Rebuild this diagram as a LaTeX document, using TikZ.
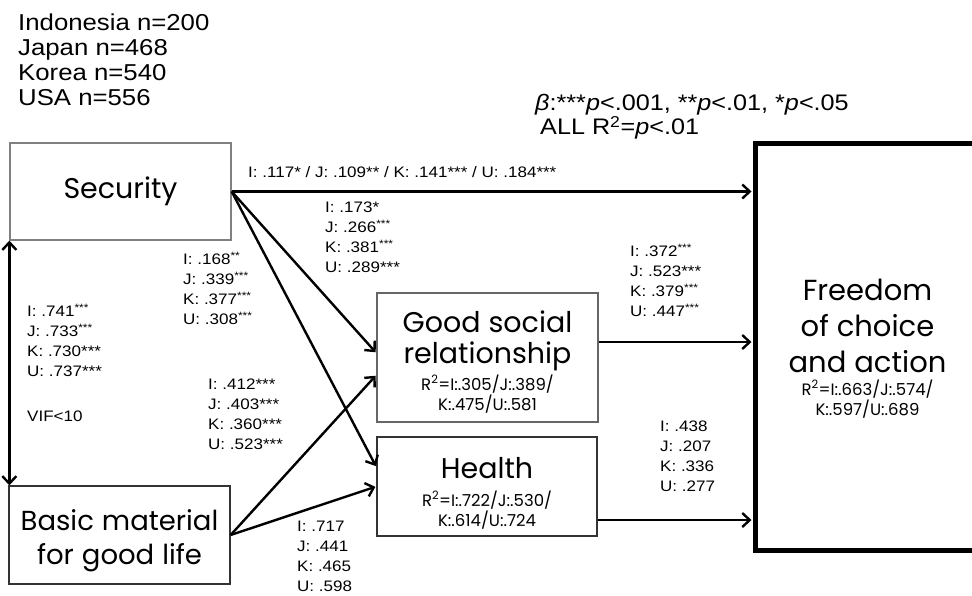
\documentclass[tikz,border=0pt]{standalone}
\usepackage{fontspec}
\setmainfont{Liberation Sans}[FakeStretch=1.12]
\newfontfamily\boxfont{Poppins}
\usetikzlibrary{arrows.meta}
\newcommand{\sg}[1]{\textsuperscript{#1}}
\newcommand{\gap}{\hspace{8pt}}
\begin{document}
\begin{tikzpicture}[x=1pt,y=-1pt,
  box/.style={draw=black!80,line width=1.3pt,align=center,text width=218pt,font=\boxfont},
  link/.style={line width=2.4pt,-{Straight Barb[length=7.5pt,width=14pt]},shorten >=1pt},
  coef/.style={anchor=north west,align=left,font=\fontsize{15.2}{20}\selectfont}]
\tikzstyle{every node}+=[inner sep=0pt]
\fill[white] (0,0) rectangle (972,595);
\useasboundingbox (0,0) rectangle (972,595);
\clip (0,0) rectangle (972,595);
% headers
\node[anchor=north west,align=left,font=\fontsize{23}{25}\selectfont] (hdr) at (18,13.5)
  {Indonesia n=200\\Japan n=468\\Korea n=540\\USA n=556};
\node[anchor=north west,align=left,font=\fontsize{22.5}{22}\selectfont] (sig) at (535,94)
  {\textit{β}:***\textit{p}<.001, **\textit{p}<.01, *\textit{p}<.05\\\hspace*{5pt}ALL R\textsuperscript{2}=\textit{p}<.01};
% boxes
\node[box,draw=gray,minimum width=221pt,minimum height=97pt] (sec) at (120.5,191.5)
  {\fontsize{28.5}{32}\selectfont Security\par};
\node[box,draw=gray!80!black,minimum width=221pt,minimum height=129pt] (gsr) at (487.5,357.5)
  {{\fontsize{28.5}{31}\selectfont\rule{0pt}{30pt}Good\gap social\\relationship\par}\vspace{3pt}
   {\fontsize{16.5}{20}\selectfont R\textsuperscript{2}=I:.305/J:.389/\\K:.475/U:.581\par}};
\node[box,minimum width=220pt,minimum height=99pt] (hlt) at (487,486.5)
  {{\fontsize{28.5}{32}\selectfont\rule{0pt}{34pt}Health\par}\vspace{8pt}
   {\fontsize{16.5}{20}\selectfont R\textsuperscript{2}=I:.722/J:.530/\\K:.614/U:.724\par}};
\node[box,minimum width=221pt,minimum height=98pt] (bas) at (119.5,535)
  {\fontsize{27.5}{34}\selectfont\rule{0pt}{33pt}Basic\gap material\\for\gap good\gap life\par};
\node[box,draw=black,line width=5pt,minimum width=225pt,minimum height=407pt] (fre) at (867.5,346.5)
  {{\fontsize{29}{36}\selectfont\rule{0pt}{25pt}Freedom\\of\gap choice\\and\gap action\par}\vspace{3pt}
   {\fontsize{16.5}{20}\selectfont R\textsuperscript{2}=I:.663/J:.574/\\K:.597/U:.689\par}};
% coefficients
\node[anchor=west,font=\fontsize{15.2}{20}\selectfont] (l117) at (248,172)
  {I: .117* / J: .109** / K: .141*** / U: .184***};
\node[coef] (l173) at (325,202) {I: .173*\\J: .266\sg{***}\\K: .381\sg{***}\\U: .289***};
\node[coef] (l168) at (183,252) {I: .168\sg{**}\\J: .339\sg{***}\\K: .377\sg{***}\\U: .308\sg{***}};
\node[coef] (l741) at (27,304) {I: .741\sg{***}\\J: .733\sg{***}\\K: .730***\\U: .737***\\[25pt]VIF<10};
\node[coef] (l412) at (208,379) {I: .412***\\J: .403***\\K: .360***\\U: .523***};
\node[coef] (l717) at (297,521) {I: .717\\J: .441\\K: .465\\U: .598};
\node[coef] (l372) at (630,244) {I: .372\sg{***}\\J: .523***\\K: .379\sg{***}\\U: .447\sg{***}};
\node[coef] (l438) at (660,421) {I: .438\\J: .207\\K: .336\\U: .277};
% paths
\coordinate (gout) at ([yshift=15.5pt]gsr.east);
\coordinate (hout) at ([yshift=-33.5pt]hlt.east);
\draw[link] (sec.east) -- (sec.east -| fre.west);
\draw[link] (sec.east) -- ([yshift=4.5pt]gsr.west);
\draw[link] (sec.east) -- ([yshift=19.5pt]hlt.west);
\draw[link] (bas.east) -- ([yshift=-17.5pt]gsr.west);
\draw[link] (bas.east) -- (hlt.west);
\draw[link] (gout) -- (gout -| fre.west);
\draw[link] (hout) -- (hout -| fre.west);
\draw[line width=2.4pt,{Straight Barb[length=7.5pt,width=14pt]}-{Straight Barb[length=7.5pt,width=14pt]}]
  (sec.south west) -- (sec.south west |- bas.north);
\end{tikzpicture}
\end{document}
